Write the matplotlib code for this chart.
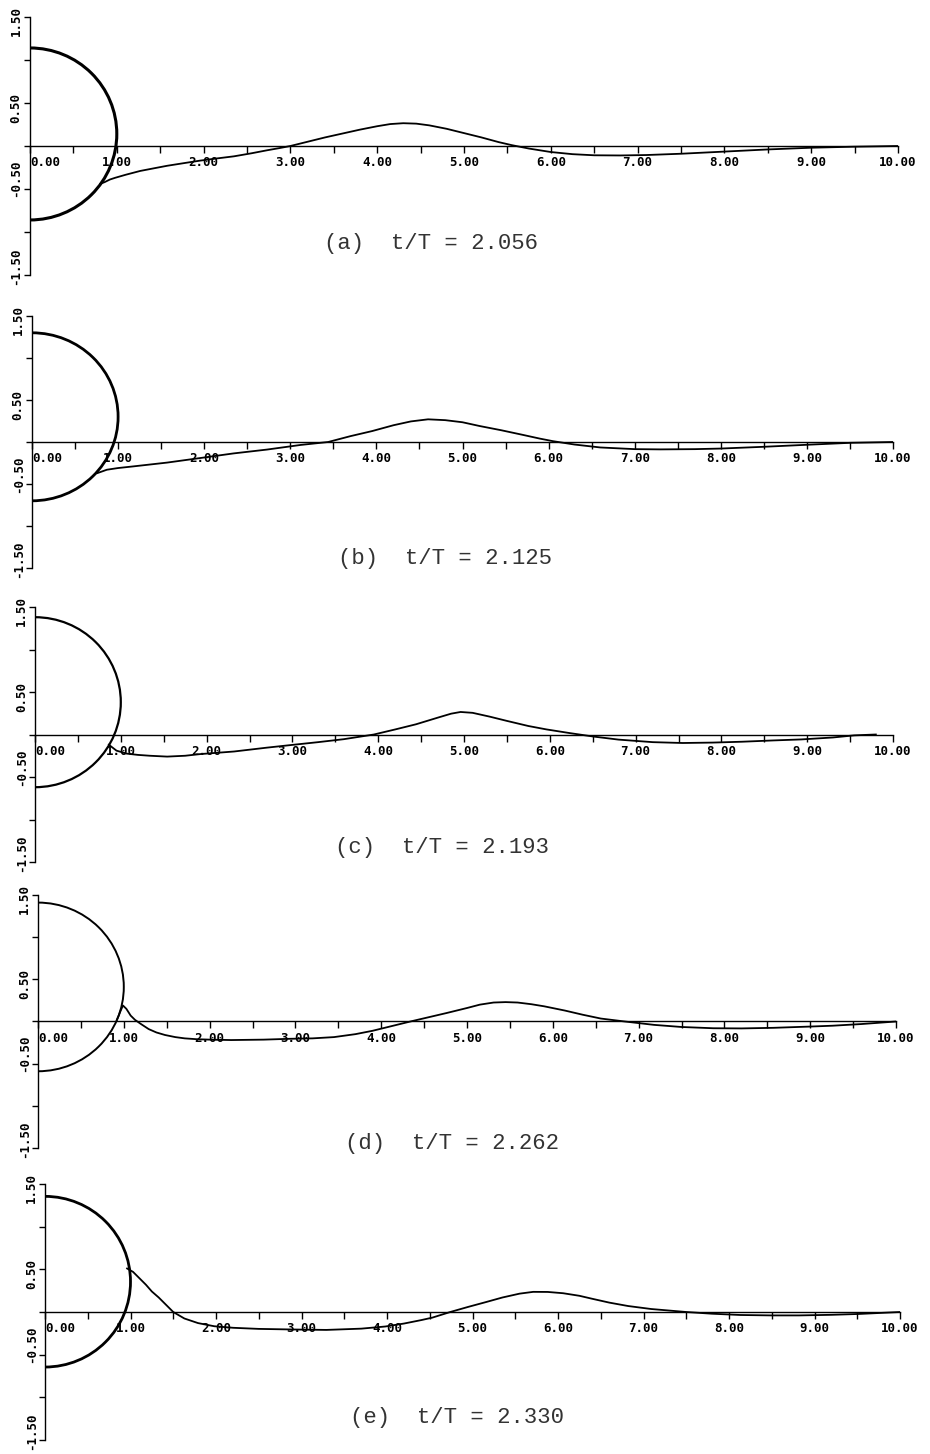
import matplotlib
matplotlib.use("Agg")
import matplotlib.pyplot as plt
from matplotlib.patches import Arc
import numpy as np

# captions and body (semicircle) position for each frame
captions = ["(a)  t/T = 2.056", "(b)  t/T = 2.125", "(c)  t/T = 2.193",
            "(d)  t/T = 2.262", "(e)  t/T = 2.330"]
body_center = [0.14, 0.30, 0.38, 0.41, 0.355]
body_radius = [1.0, 1.0, 1.0, 1.0, 1.0]

# free-surface elevation
xa = [0.81, 0.86, 0.92, 0.98, 1.1, 1.27, 1.45, 1.58, 1.8, 1.96, 2.15, 2.35, 2.55, 2.73, 2.87,
      3.0, 3.2, 3.4, 3.6, 3.8, 4.0, 4.15, 4.3, 4.45, 4.6, 4.8, 5.0, 5.2, 5.4, 5.55, 5.75,
      6.0, 6.25, 6.5, 6.8, 7.1, 7.5, 8.0, 8.5, 9.0, 9.5, 10.0]
ya = [-0.44, -0.42, -0.39, -0.37, -0.335, -0.29, -0.255, -0.23, -0.195, -0.17, -0.145, -0.12,
      -0.085, -0.05, -0.025, 0.0, 0.05, 0.10, 0.145, 0.19, 0.23, 0.255, 0.265, 0.26, 0.24, 0.20,
      0.15, 0.10, 0.045, 0.01, -0.03, -0.07, -0.095, -0.108, -0.11, -0.105, -0.09, -0.065,
      -0.04, -0.02, -0.008, 0.0]

xb = [0.76, 0.87, 1.0, 1.18, 1.57, 1.96, 2.34, 2.73, 3.12, 3.44, 3.7, 3.95, 4.2, 4.4,
      4.6, 4.8, 5.0, 5.2, 5.45, 5.7, 5.9, 6.05, 6.3, 6.6, 7.0, 7.3, 7.7, 8.0, 8.5, 9.0,
      9.5, 10.0]
yb = [-0.37, -0.33, -0.31, -0.29, -0.245, -0.19, -0.136, -0.09, -0.035, 0.0, 0.07, 0.13,
      0.20, 0.245, 0.27, 0.26, 0.235, 0.19, 0.14, 0.085, 0.04, 0.01, -0.03, -0.065, -0.085,
      -0.088, -0.085, -0.078, -0.057, -0.033, -0.01, 0.0]

xc = [0.86, 0.95, 1.07, 1.2, 1.34, 1.54, 1.75, 1.93, 2.32, 2.70, 3.02, 3.3, 3.6, 3.95,
      4.2, 4.44, 4.7, 4.85, 4.96, 5.1, 5.3, 5.5, 5.75, 5.96, 6.23, 6.5, 6.8, 7.2, 7.55,
      7.9, 8.24, 8.6, 8.93, 9.3, 9.55, 9.8]
yc = [-0.12, -0.19, -0.225, -0.24, -0.25, -0.26, -0.25, -0.23, -0.20, -0.155, -0.12, -0.09,
      -0.055, 0.0, 0.06, 0.12, 0.20, 0.245, 0.265, 0.255, 0.21, 0.16, 0.10, 0.06, 0.017,
      -0.023, -0.06, -0.09, -0.10, -0.095, -0.085, -0.07, -0.058, -0.035, -0.01, 0.0]

xd = [0.92, 0.96, 0.99, 1.03, 1.08, 1.13, 1.2, 1.29, 1.38, 1.48, 1.6, 1.71, 1.85, 2.0,
      2.25, 2.63, 2.94, 3.2, 3.45, 3.7, 3.9, 4.1, 4.34, 4.55, 4.76, 5.0, 5.15, 5.31, 5.45,
      5.59, 5.75, 5.9, 6.14, 6.35, 6.56, 6.84, 7.18, 7.5, 7.87, 8.2, 8.57, 9.0, 9.26, 9.6,
      10.0]
yd = [0.02, 0.12, 0.19, 0.15, 0.07, 0.02, -0.03, -0.09, -0.13, -0.16, -0.185, -0.20,
      -0.21, -0.215, -0.22, -0.215, -0.205, -0.20, -0.185, -0.15, -0.11, -0.06, 0.0, 0.05,
      0.10, 0.16, 0.20, 0.225, 0.23, 0.225, 0.205, 0.18, 0.13, 0.08, 0.035, 0.0, -0.04,
      -0.065, -0.08, -0.082, -0.075, -0.06, -0.05, -0.03, 0.0]

xe = [0.96, 1.03, 1.10, 1.18, 1.25, 1.33, 1.40, 1.50, 1.63, 1.79, 1.98, 2.2, 2.5, 2.9,
      3.29, 3.7, 3.98, 4.2, 4.4, 4.53, 4.74, 4.95, 5.16, 5.35, 5.55, 5.71, 5.88, 6.06, 6.25,
      6.4, 6.6, 6.82, 7.09, 7.5, 7.8, 8.13, 8.5, 8.82, 9.2, 9.52, 10.0]
ye = [0.51, 0.47, 0.40, 0.32, 0.24, 0.17, 0.10, 0.0, -0.076, -0.13, -0.167, -0.185, -0.198,
      -0.205, -0.21, -0.195, -0.17, -0.135, -0.095, -0.066, 0.0, 0.06, 0.117, 0.17, 0.215,
      0.236, 0.235, 0.22, 0.19, 0.155, 0.11, 0.07, 0.035, 0.0, -0.02, -0.035, -0.04, -0.04,
      -0.033, -0.023, 0.0]

waves = [(xa, ya), (xb, yb), (xc, yc), (xd, yd), (xe, ye)]
xtick_labels = ["%.2f" % v for v in range(11)]
ytick_labels = ["1.50", "0.50", "-0.50", "-1.50"]
ylab_at = [1.45, 0.44, -0.38, -1.40]

W, H = 930, 1454
# pixel frame of each panel: x of 0, x of 10, y of +1.5, y of -1.5
frames = [(30, 898, 17, 275), (32, 893, 316, 568), (35, 893, 607, 862),
          (38, 896, 895, 1148), (45, 900, 1184, 1440)]
cap_pos = [(431, 243), (445, 558), (442, 848), (452, 1143), (457, 1418)]
circle_lw = [2.2, 2.0, 1.6, 1.4, 2.0]

fig = plt.figure(figsize=(W / 100, H / 100), dpi=100)
fig.patch.set_facecolor("white")

for i, (x0, x1, yt, yb_) in enumerate(frames):
    ax = fig.add_axes([x0 / W, 1 - yb_ / H, (x1 - x0) / W, (yb_ - yt) / H])
    ax.set_xlim(0, 10)
    ax.set_ylim(-1.5, 1.5)
    ax.patch.set_alpha(0)
    for s in ["top", "right"]:
        ax.spines[s].set_visible(False)
    ax.spines["bottom"].set_position(("data", 0))
    ax.spines["left"].set_bounds(-1.5, 1.5)
    for s in ["bottom", "left"]:
        ax.spines[s].set_linewidth(1.0)
        ax.spines[s].set_color("black")

    ax.set_xticks(np.arange(0, 11, 1))
    ax.set_xticks(np.arange(0.5, 10, 1), minor=True)
    ax.set_xticklabels(xtick_labels, fontfamily="DejaVu Sans Mono",
                       fontweight="bold", fontsize=9)
    ax.get_xticklabels()[0].set_horizontalalignment("left")
    ax.tick_params(axis="x", which="both", direction="out", length=5,
                   width=1.0, pad=2.5)
    ax.set_yticks(np.arange(-1.5, 1.6, 0.5))
    ax.set_yticklabels([])
    ax.tick_params(axis="y", direction="out", length=4, width=1.0)

    for lab, yy in zip(ytick_labels, ylab_at):
        ax.text(-0.16, yy, lab, rotation=90, ha="center", va="center",
                fontfamily="DejaVu Sans Mono", fontweight="bold", fontsize=9,
                clip_on=False)

    r = body_radius[i]
    ax.add_patch(Arc((0, body_center[i]), 2 * r, 2 * r, theta1=-90, theta2=90,
                     color="black", lw=circle_lw[i]))
    wx, wy = waves[i]
    ax.plot(wx, wy, color="black", lw=1.3)

    cx, cy = cap_pos[i]
    fig.text(cx / W, 1 - cy / H, captions[i], ha="center", va="center",
             fontfamily="Liberation Mono", fontsize=16, color="#333333")

fig.savefig("out.png", dpi=100, facecolor="white")
